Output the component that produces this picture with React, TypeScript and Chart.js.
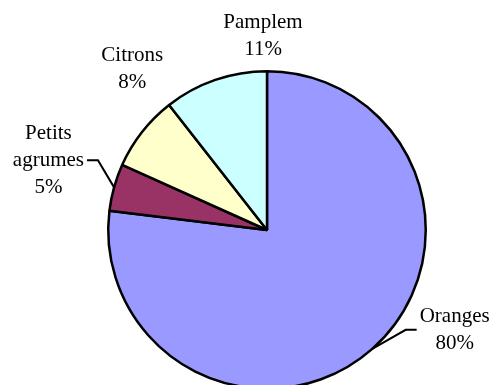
import React, { useEffect, useRef } from "react";
import { Chart, registerables } from "chart.js";

Chart.register(...registerables);

// Citrus production shares (percent)
const categories = ["Oranges", "Petits agrumes", "Citrons", "Pamplem"];
const shares = [80, 5, 8, 11];
const sliceColors = ["#9999FF", "#993366", "#FFFFCC", "#CCFFFF"];
// how each category name is broken over lines in its label
const nameLines = [["Oranges"], ["Petits", "agrumes"], ["Citrons"], ["Pamplem"]];

// label block centres, in pie-radius units from the pie centre; leader = side the leader line leaves from
const labelPlacement = [
  { dx: 1.182, dy: 0.629, leader: "left" },
  { dx: -1.377, dy: -0.44, leader: "right" },
  { dx: -0.849, dy: -1.016, leader: null },
  { dx: -0.025, dy: -1.223, leader: null },
];

const FONT = '21px "Liberation Serif", "Times New Roman", serif';
const LINE_H = 27;

const labelPlugin = {
  id: "sliceLabels",
  afterDatasetsDraw(chart: any) {
    const ctx: CanvasRenderingContext2D = chart.ctx;
    const meta = chart.getDatasetMeta(0);
    ctx.save();
    ctx.font = FONT;
    ctx.fillStyle = "#000";
    ctx.textAlign = "center";
    ctx.textBaseline = "middle";
    meta.data.forEach((arc: any, i: number) => {
      const { x, y, startAngle, endAngle, outerRadius } = arc.getProps(
        ["x", "y", "startAngle", "endAngle", "outerRadius"],
        true
      );
      const place = labelPlacement[i];
      const cx = x + place.dx * outerRadius;
      const cy = y + place.dy * outerRadius;
      const lines = [...nameLines[i], `${shares[i]}%`];
      const top = cy - ((lines.length - 1) * LINE_H) / 2;
      let maxW = 0;
      lines.forEach((t, k) => {
        ctx.fillText(t, cx, top + k * LINE_H);
        maxW = Math.max(maxW, ctx.measureText(t).width);
      });
      if (place.leader) {
        const mid = (startAngle + endAngle) / 2;
        const ex = x + Math.cos(mid) * outerRadius;
        const ey = y + Math.sin(mid) * outerRadius;
        const dir = place.leader === "right" ? 1 : -1;
        const sx = cx + dir * (maxW / 2 + 3);
        const sy = cy;
        const kx = sx + dir * 11;
        ctx.beginPath();
        ctx.lineWidth = 2;
        ctx.strokeStyle = "#000";
        ctx.moveTo(sx, sy);
        ctx.lineTo(kx, sy);
        ctx.lineTo(ex, ey);
        ctx.stroke();
      }
    });
    ctx.restore();
  },
};

export default function App() {
  const canvasRef = useRef<HTMLCanvasElement | null>(null);

  useEffect(() => {
    const canvas = canvasRef.current;
    if (!canvas) return;
    const chart = new Chart(canvas, {
      type: "pie",
      data: {
        labels: categories,
        datasets: [
          {
            data: shares,
            backgroundColor: sliceColors,
            borderColor: "#000000",
            borderWidth: 2.5,
          },
        ],
      },
      options: {
        responsive: false,
        animation: false,
        layout: { padding: { left: 107, right: 65, top: 70, bottom: 70 } },
        plugins: {
          legend: { display: false },
          tooltip: { enabled: false },
        },
      },
      plugins: [labelPlugin],
    });
    return () => chart.destroy();
  }, []);

  return (
    <div
      style={{
        position: "fixed",
        left: 0,
        top: 0,
        width: 492,
        height: 385,
        overflow: "hidden",
        background: "#fff",
      }}
    >
      <canvas ref={canvasRef} width={492} height={460} style={{ display: "block" }} />
    </div>
  );
}
